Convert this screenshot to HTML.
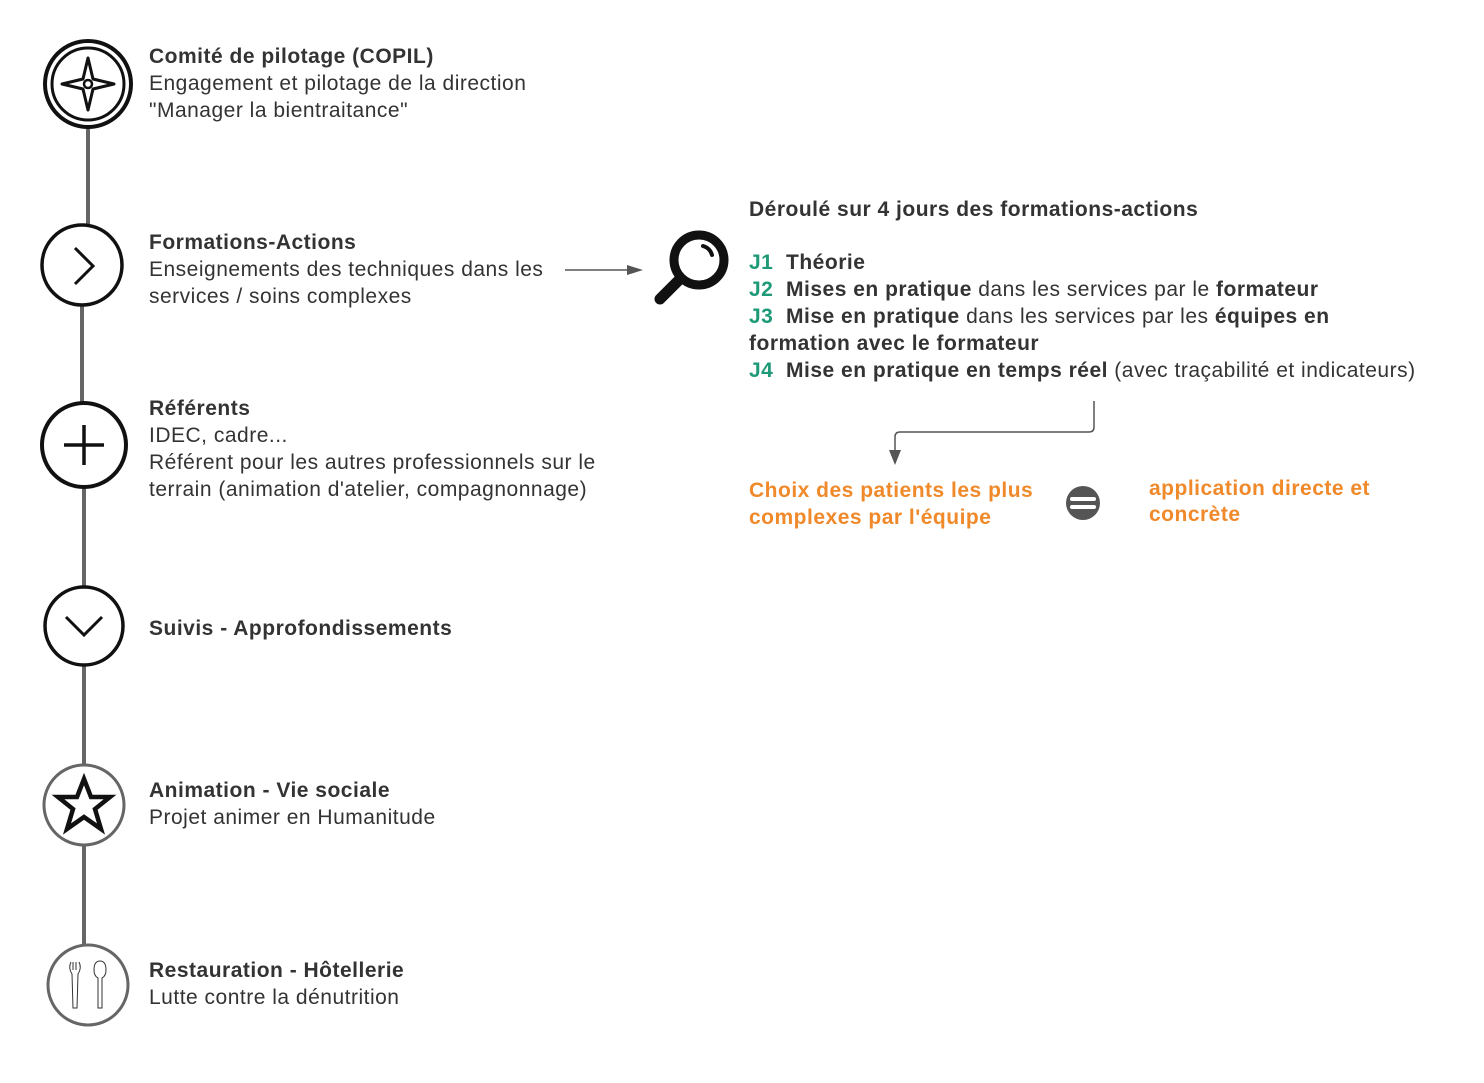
<!DOCTYPE html>
<html><head><meta charset="utf-8"><style>
body{margin:0;width:1484px;height:1083px;background:#fff;position:relative;overflow:hidden;font-family:"Liberation Sans",sans-serif;color:#333;}
.t{position:absolute;font-size:21px;letter-spacing:0.5px;line-height:27px;white-space:nowrap;}
b{font-weight:bold}
.g{color:#1f9a78;font-weight:bold}
.o{color:#f0892a;font-weight:bold}
svg{position:absolute;left:0;top:0}
</style></head><body>
<svg width="1484" height="1083" viewBox="0 0 1484 1083">
<g stroke="#666" stroke-width="4" fill="none">
<line x1="88" y1="128" x2="88" y2="224"/>
<line x1="82" y1="306" x2="82" y2="402"/>
<line x1="84" y1="488" x2="84" y2="586"/>
<line x1="84" y1="666" x2="84" y2="765"/>
<line x1="84" y1="845" x2="84" y2="945"/>
</g>
<circle cx="88" cy="84" r="43" fill="#fff" stroke="#111" stroke-width="4"/>
<circle cx="88" cy="84" r="36" fill="none" stroke="#111" stroke-width="3"/>
<path d="M88 58 L93 79 L114 84 L93 89 L88 110 L83 89 L62 84 L83 79 Z" fill="none" stroke="#111" stroke-width="3" stroke-linejoin="round"/>
<circle cx="88" cy="84" r="4" fill="#fff" stroke="#111" stroke-width="2.5"/>
<circle cx="82" cy="265" r="40" fill="#fff" stroke="#111" stroke-width="3.5"/>
<path d="M75 248 L93 266 L75 284" fill="none" stroke="#111" stroke-width="3"/>
<circle cx="84" cy="445" r="42" fill="#fff" stroke="#111" stroke-width="4"/>
<path d="M84 425 V465 M64 445 H104" stroke="#111" stroke-width="3.5"/>
<circle cx="84" cy="626" r="39" fill="#fff" stroke="#111" stroke-width="3.5"/>
<path d="M66 617 L84 635 L102 617" fill="none" stroke="#111" stroke-width="3"/>
<circle cx="84" cy="805" r="40" fill="#fff" stroke="#666" stroke-width="3"/>
<path d="M84 779 L91 797 L110 797 L95 809 L101 829 L84 817 L67 829 L73 809 L58 797 L77 797 Z" fill="none" stroke="#111" stroke-width="4.5" stroke-linejoin="miter"/>
<circle cx="88" cy="985" r="40" fill="#fff" stroke="#666" stroke-width="3"/>
<path d="M71 962 q-3 6 1 12 l1 34 h4 l1 -34 q4 -6 1 -12 M73 962 v8 M76 962 v8" fill="none" stroke="#333" stroke-width="1"/>
<path d="M100 961 q-6 0 -6 9 q0 6 4 8 l0 30 h4 l0 -30 q4 -2 4 -8 q0 -9 -6 -9z" fill="none" stroke="#333" stroke-width="1"/>
<line x1="565" y1="270" x2="630" y2="270" stroke="#555" stroke-width="1.5"/>
<path d="M643 270 L627 265 L627 275 Z" fill="#555"/>
<circle cx="699" cy="260" r="25" fill="none" stroke="#111" stroke-width="9"/>
<path d="M660 299 L680 279" stroke="#111" stroke-width="11" stroke-linecap="round"/>
<path d="M703 246 q7 2 9 9" fill="none" stroke="#111" stroke-width="4" stroke-linecap="round"/>
<path d="M1094 401 V427 q0 5 -5 5 H900 q-5 0 -5 5 V452" fill="none" stroke="#555" stroke-width="1.5"/>
<path d="M889 450 L901 450 L895 465 Z" fill="#555"/>
<circle cx="1083" cy="503" r="17" fill="#555"/>
<rect x="1070" y="497" width="26" height="4" rx="2" fill="#fff"/>
<rect x="1070" y="505" width="26" height="4" rx="2" fill="#fff"/>
</svg>

<div class="t" style="left:149px;top:43px"><b>Comité de pilotage (COPIL)</b><br>Engagement et pilotage de la direction<br>"Manager la bientraitance"</div>
<div class="t" style="left:149px;top:229px"><b>Formations-Actions</b><br>Enseignements des techniques dans les<br>services / soins complexes</div>
<div class="t" style="left:149px;top:395px"><b>Référents</b><br>IDEC, cadre...<br>Référent pour les autres professionnels sur le<br>terrain (animation d'atelier, compagnonnage)</div>
<div class="t" style="left:149px;top:615px"><b>Suivis - Approfondissements</b></div>
<div class="t" style="left:149px;top:777px"><b>Animation - Vie sociale</b><br>Projet animer en Humanitude</div>
<div class="t" style="left:149px;top:957px"><b>Restauration - Hôtellerie</b><br>Lutte contre la dénutrition</div>

<div class="t" style="left:749px;top:196px"><b>Déroulé sur 4 jours des formations-actions</b></div>
<div class="t" style="left:749px;top:249px"><span class="g">J1</span>&nbsp; <b>Théorie</b><br><span class="g">J2</span>&nbsp; <b>Mises en pratique</b> dans les services par le <b>formateur</b><br><span class="g">J3</span>&nbsp; <b>Mise en pratique</b> dans les services par les <b>équipes en</b><br><b>formation avec le formateur</b><br><span class="g">J4</span>&nbsp; <b>Mise en pratique en temps réel</b> (avec traçabilité et indicateurs)</div>
<div class="t o" style="left:749px;top:477px;line-height:27px">Choix des patients les plus<br>complexes par l'équipe</div>
<div class="t o" style="left:1149px;top:476px;line-height:26px">application directe et<br>concrète</div>
</body></html>
